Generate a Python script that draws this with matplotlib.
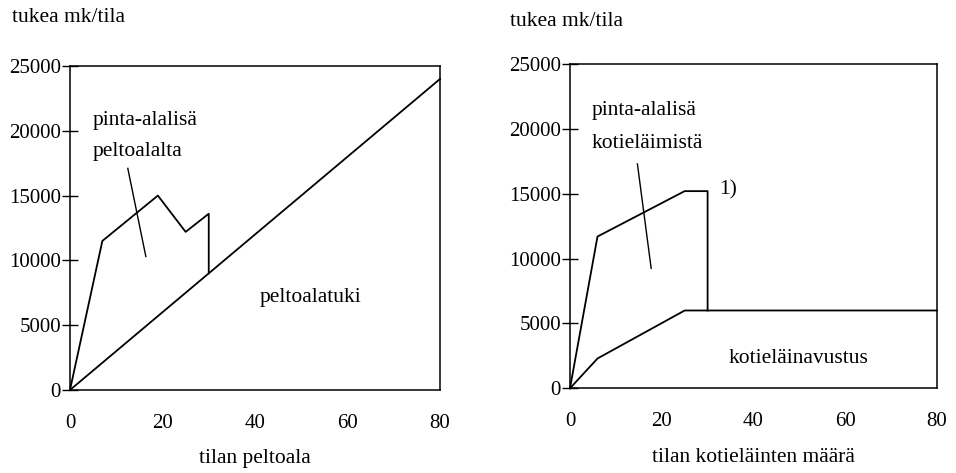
import matplotlib
matplotlib.use("Agg")
import matplotlib.pyplot as plt

plt.rcParams['font.family'] = ['Liberation Serif', 'DejaVu Serif']

# Left panel data (field area support)
left_upper_x = [0, 7, 19, 25, 30, 30]
left_upper_y = [0, 11500, 15000, 12200, 13600, 9000]
left_lower_x = [0, 80]
left_lower_y = [0, 24000]

# Right panel data (livestock support)
right_upper_x = [0, 6, 25, 30, 30]
right_upper_y = [0, 11700, 15200, 15200, 6000]
right_lower_x = [0, 6, 25, 80]
right_lower_y = [0, 2300, 6000, 6000]

x_ticks = [0, 20, 40, 60, 80]
y_ticks = [0, 5000, 10000, 15000, 20000, 25000]

fig = plt.figure(figsize=(9.56, 4.73), dpi=100)
ax1 = fig.add_axes([0.0732, 0.1755, 0.3871, 0.685])
ax2 = fig.add_axes([0.5962, 0.179, 0.3839, 0.6857])

fs_tick = 15
fs = 15.5
for ax in (ax1, ax2):
    ax.set_xlim(0, 80)
    ax.set_ylim(0, 25000)
    ax.set_xticks(x_ticks)
    ax.set_yticks(y_ticks)
    ax.tick_params(axis='x', length=0, pad=17, labelsize=fs_tick)
    ax.tick_params(axis='y', direction='inout', length=11, width=1, pad=1, labelsize=fs_tick)
    for s in ax.spines.values():
        s.set_linewidth(1.1)

lw = 1.3
ax1.plot(left_upper_x, left_upper_y, color='black', lw=lw, clip_on=False)
ax1.plot(left_lower_x, left_lower_y, color='black', lw=lw, clip_on=False)
ax1.plot([12.5, 16.4], [17100, 10300], color='black', lw=1)
ax1.text(5.0, 20800, 'pinta-alalisä', fontsize=fs, va='center', ha='left')
ax1.text(5.0, 18400, 'peltoalalta', fontsize=fs, va='center', ha='left')
ax1.text(41, 7100, 'peltoalatuki', fontsize=fs, va='center', ha='left')
ax1.set_xlabel('tilan peltoala', fontsize=fs, labelpad=12)
fig.text(12/956, 1 - 18/473, 'tukea mk/tila', fontsize=fs, va='center', ha='left')

ax2.plot(right_upper_x, right_upper_y, color='black', lw=lw, clip_on=False)
ax2.plot(right_lower_x, right_lower_y, color='black', lw=lw, clip_on=False)
ax2.plot([14.7, 17.7], [17300, 9250], color='black', lw=1)
ax2.text(4.7, 21450, 'pinta-alalisä', fontsize=fs, va='center', ha='left')
ax2.text(4.7, 18900, 'kotieläimistä', fontsize=fs, va='center', ha='left')
ax2.text(32.6, 15300, '1)', fontsize=fs, va='center', ha='left')
ax2.text(34.6, 2300, 'kotieläinavustus', fontsize=fs, va='center', ha='left')
ax2.set_xlabel('tilan kotieläinten määrä', fontsize=fs, labelpad=12)
fig.text(510/956, 1 - 22/473, 'tukea mk/tila', fontsize=fs, va='center', ha='left')

fig.savefig('out.png', dpi=100)
